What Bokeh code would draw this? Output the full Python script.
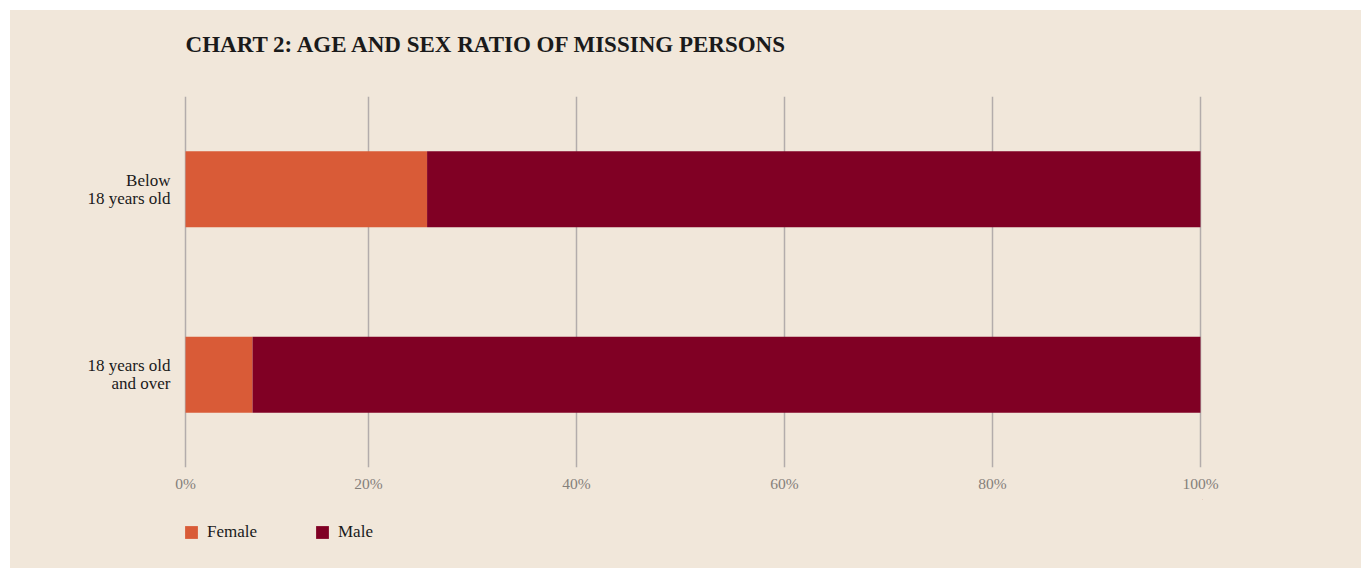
from bokeh.plotting import figure
from bokeh.layouts import column
from bokeh.models import ColumnDataSource, FactorRange, FixedTicker, Legend, LegendItem
from bokeh.core.properties import value
from bokeh.embed import file_html
from bokeh.resources import INLINE

# ---- data ----
title_text = "CHART 2: AGE AND SEX RATIO OF MISSING PERSONS"
age_groups = ["18 years old\nand over", "Below\n18 years old"]
female = [6.6, 23.8]
male = [93.4, 76.2]
series = ["Female", "Male"]
tick_values = [0, 18.03, 38.52, 59.01, 79.51, 100]
tick_labels = ["0%", "20%", "40%", "60%", "80%", "100%"]

BG = "#f1e7da"
FEMALE_C = "#d95b37"
MALE_C = "#800024"
COLORS = [FEMALE_C, MALE_C]
SERIF = "Liberation Serif"
W = 1351


def strip(height):
    f = figure(width=W, height=height, x_range=(0, 1), y_range=(0, 1),
               output_backend="svg", toolbar_location=None, min_border=0)
    f.background_fill_color = None
    f.border_fill_color = BG
    f.outline_line_color = None
    f.axis.visible = False
    f.grid.visible = False
    return f


# ---- title strip ----
tf = strip(86)
tf.text(x=[0.002], y=[0.605], text=[title_text], text_font=value(SERIF),
        text_font_style="bold", text_font_size="23px", text_color="#1a1a1a",
        text_align="left", text_baseline="middle")

# ---- main chart ----
source = ColumnDataSource(dict(age=age_groups, Female=female, Male=male))

p = figure(
    width=W, height=403,
    y_range=FactorRange(factors=age_groups, range_padding=0),
    x_range=(-0.2, 100.2),
    output_backend="svg", toolbar_location=None,
    min_border_left=173, min_border_right=159,
    min_border_top=0, min_border_bottom=32,
)
p.background_fill_color = BG
p.border_fill_color = BG
p.outline_line_color = None

rs = p.hbar_stack(series, y="age", height=0.41,
                  color=COLORS, line_color=None, source=source)

p.xaxis.ticker = FixedTicker(ticks=tick_values)
p.xaxis.major_label_overrides = {v: l for v, l in zip(tick_values, tick_labels)}
p.xaxis.axis_line_color = None
p.xaxis.major_tick_line_color = None
p.xaxis.minor_tick_line_color = None
p.xaxis.major_label_text_font = SERIF
p.xaxis.major_label_text_font_size = "15.5px"
p.xaxis.major_label_text_color = "#85807b"
p.xaxis.major_label_standoff = 1

p.yaxis.axis_line_color = None
p.yaxis.major_tick_line_color = None
p.yaxis.minor_tick_line_color = None
p.yaxis.major_label_text_font = SERIF
p.yaxis.major_label_text_font_size = "17px"
p.yaxis.major_label_text_line_height = 0.95
p.yaxis.major_label_text_color = "#1a1a1a"
p.yaxis.major_label_standoff = 7
p.yaxis.major_label_text_align = "right"

p.xgrid.grid_line_color = "#b3acab"
p.xgrid.grid_line_width = 1.5
p.ygrid.grid_line_color = None

# ---- legend strip ----
lg = strip(69)
items = []
for name, col in zip(series, COLORS):
    r = lg.hbar(y=[5], left=[5], right=[6], height=0.5, color=col, line_color=None)
    items.append(LegendItem(label=name, renderers=[r]))

legend = Legend(
    items=items, orientation="horizontal", location=(0, 26),
    glyph_width=16, glyph_height=16, label_standoff=8,
    label_width=107, spacing=0, padding=0, margin=0,
    background_fill_alpha=0, border_line_color=None,
    label_text_font=SERIF, label_text_font_size="17px",
    label_text_color="#1a1a1a",
)
lg.add_layout(legend, "center")

layout = column(tf, p, lg, spacing=0, margin=(10, 0, 0, 10),
                styles={"background-color": BG})
open("out.html", "w").write(file_html(layout, INLINE))
